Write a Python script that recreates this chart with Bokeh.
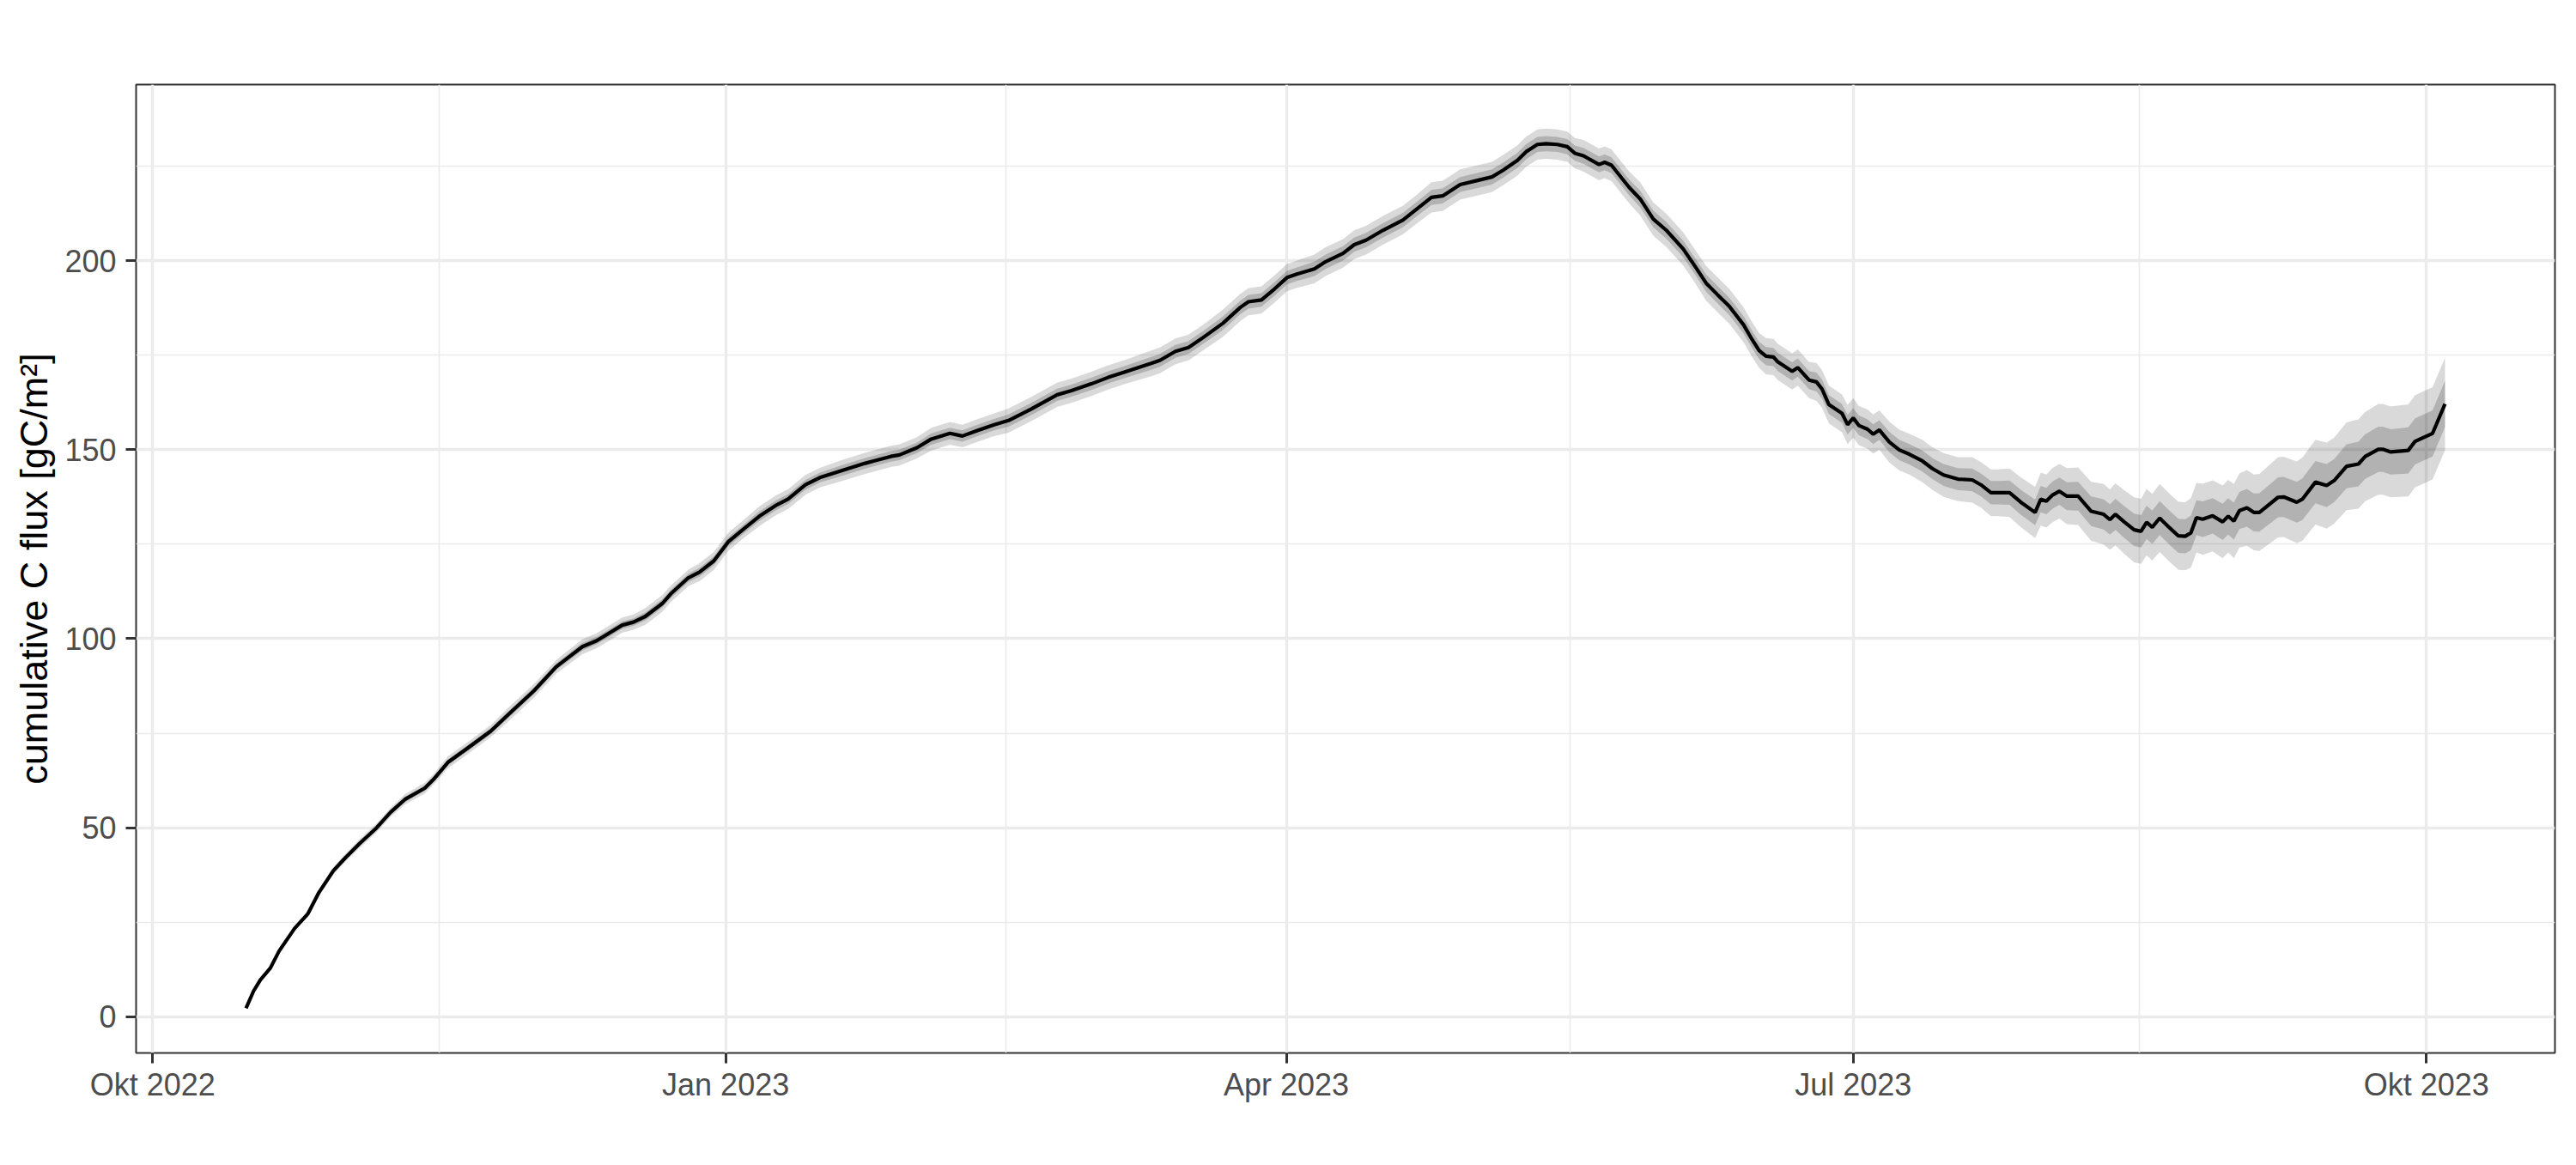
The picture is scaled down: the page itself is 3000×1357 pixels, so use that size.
import pandas as pd
from bokeh.plotting import figure
from bokeh.models import ColumnDataSource, FixedTicker, Range1d
from bokeh.embed import file_html
from bokeh.resources import INLINE

# ---------------- data ----------------
start_date = "2022-10-01"

# days after start_date
day_offset = [
    15.0, 16.2, 17.3, 18.9, 20.3, 22.8, 24.9, 26.7, 29.0, 30.9, 33.2, 35.9, 38.2, 40.5, 43.7, 45.1, 47.4, 50.6, 54.3,
    57.0, 61.2, 64.8, 69.0, 71.3, 75.4, 77.2, 79.1, 81.8,
    83.2, 86.0, 87.8, 90.1, 92.4, 95.1, 97.4, 100.2, 102.0, 104.8, 107.1, 110.7, 114.4, 118.5, 119.9, 122.7, 125.0,
    128.0, 130.0, 132.3, 135.1, 137.4, 141.0, 145.2, 147.5, 150.7,
    153.4, 156.2, 160.3, 161.7, 164.2, 166.3, 168.6, 171.8, 174.6, 175.9, 178.0, 180.1, 182.1, 183.7, 186.5, 188.3,
    191.1, 192.9, 194.8, 197.5, 200.7, 203.0, 205.3, 207.1, 209.9, 212.7, 215.0, 216.8, 219.1, 220.5, 222.3, 223.7,
    225.5, 227.1, 228.3, 229.7, 232.2, 233.1, 234.2, 237.0, 238.8, 240.9, 243.0, 245.7, 247.6, 249.4, 251.2, 253.1,
    255.4, 256.7, 257.9, 259.0, 260.2, 260.9, 263.2, 264.1, 265.9, 267.1, 268.0, 269.1, 271.2, 272.1, 273.0, 273.9,
    275.3, 276.2, 277.2, 278.8, 280.4, 282.0, 284.1, 285.7, 287.5, 289.8, 292.1, 293.5, 295.1, 296.2, 298.1, 299.9,
    302.2, 303.1, 304.0, 305.0, 306.1, 307.3, 309.1, 311.2, 313.2, 314.2, 315.1, 316.5, 318.1, 319.2, 320.1, 321.0,
    322.2, 323.8,
    325.2, 326.3, 327.2, 328.1, 329.1, 330.7, 332.3, 333.2, 334.1, 335.0, 336.2, 337.3, 338.2, 341.2, 342.1, 344.2,
    345.1, 347.2, 349.0, 350.2, 352.2, 354.1, 355.2, 357.3, 358.0, 359.3, 362.1, 363.2, 366.0, 368.0,
]

cum_flux = [
    2.3, 6.8, 9.8, 12.9, 17.4, 23.4, 27.2, 32.9, 38.6, 42.0, 45.8, 49.9, 54.1, 57.5, 60.5, 62.8, 67.3, 71.1, 75.6, 79.8,
    86.2, 92.6, 97.9, 99.5, 103.6, 104.4, 105.9, 109.3,
    111.9, 116.1, 117.6, 120.6, 125.6, 129.3, 132.4, 135.4, 136.9, 140.7, 142.6, 144.5, 146.4, 148.2, 148.6, 150.5, 152.8,
    154.3, 153.6, 155.0, 156.6, 157.7, 160.7, 164.5, 165.6, 167.4,
    169.1, 170.6, 172.8, 173.6, 176.0, 177.0, 179.6, 183.4, 187.6, 189.1, 189.6, 192.5, 195.5, 196.4, 197.8, 199.7, 201.9,
    204.2, 205.4, 208.0, 210.7, 213.7, 216.7, 217.1, 220.1, 221.2, 222.1, 223.9, 226.5, 228.8, 230.7, 230.9,
    230.7, 230.1, 228.4, 227.7, 225.4, 226.0, 225.2, 219.4, 216.3, 211.0, 208.0, 203.1, 198.5, 194.0, 191.0, 187.9, 183.0,
    179.3, 176.2, 174.7, 174.5, 173.2, 170.7, 171.7, 168.4, 167.9, 166.0, 161.9, 159.6, 156.6, 158.4, 156.4,
    155.4, 154.1, 155.2, 152.0, 149.9, 148.8, 147.0, 145.0, 143.3, 142.2, 142.0, 140.7, 138.6, 138.6, 138.6, 136.1, 133.4,
    136.9, 136.4, 138.0, 139.0, 137.7, 137.7, 133.7, 132.9, 131.5, 132.9, 130.9, 128.8, 128.4, 130.8, 129.5, 131.9, 129.3,
    127.2, 127.1, 128.0, 132.0, 131.6, 132.5, 130.9, 132.4, 131.1, 133.9, 134.6, 133.4, 133.4, 137.4, 137.5, 136.1, 136.9,
    141.4, 140.5, 141.8, 145.6, 146.2, 148.2, 150.1, 150.1, 149.4, 149.8, 152.2, 154.3, 162.1,
]

# half-width of the inner (dark) band; the outer (light) band is twice as wide
band_sd = [
    0.1, 0.1, 0.2, 0.2, 0.3, 0.3, 0.4, 0.4, 0.5, 0.5, 0.6, 0.6, 0.6, 0.7, 0.7, 0.7, 0.8, 0.8, 0.8, 0.9, 0.9, 0.9, 1.0, 1.0,
    1.0, 1.0, 1.1, 1.1,
    1.1, 1.1, 1.2, 1.2, 1.2, 1.2, 1.3, 1.3, 1.3, 1.3, 1.3, 1.4, 1.4, 1.4, 1.4, 1.4, 1.5, 1.5, 1.5, 1.5, 1.5, 1.6, 1.6, 1.6,
    1.6, 1.6,
    1.6, 1.6, 1.7, 1.7, 1.7, 1.7, 1.7, 1.8, 1.8, 1.8, 1.8, 1.8, 1.8, 1.8, 1.9, 1.9, 1.9, 1.9, 1.9, 1.9, 1.9, 1.9, 2.0, 2.0,
    2.0, 2.0, 2.0, 2.0, 2.0, 2.0, 2.0, 2.0,
    2.0, 2.0, 2.0, 2.1, 2.1, 2.1, 2.1, 2.1, 2.2, 2.2, 2.2, 2.2, 2.2, 2.3, 2.3, 2.3, 2.3, 2.3, 2.3, 2.4, 2.4, 2.4, 2.4, 2.4,
    2.4, 2.5, 2.5, 2.5, 2.5, 2.6, 2.6, 2.6,
    2.6, 2.6, 2.6, 2.7, 2.7, 2.7, 2.8, 2.8, 2.9, 2.9, 3.0, 3.0, 3.1, 3.1, 3.2, 3.3, 3.4, 3.5, 3.5, 3.6, 3.6, 3.7, 3.8, 3.9,
    4.0, 4.0, 4.1, 4.2, 4.3, 4.3, 4.4, 4.4, 4.5, 4.5,
    4.5, 4.5, 4.6, 4.6, 4.7, 4.7, 4.8, 4.8, 4.9, 4.9, 5.0, 5.0, 5.1, 5.3, 5.3, 5.4, 5.5, 5.6, 5.7, 5.7, 5.8, 5.9, 5.9, 6.0,
    6.0, 6.0, 6.1, 6.1, 6.1, 6.1,
]

x_tick_dates = ["2022-10-01", "2023-01-01", "2023-04-01", "2023-07-01", "2023-10-01"]
x_tick_labels = ["Okt 2022", "Jan 2023", "Apr 2023", "Jul 2023", "Okt 2023"]
y_ticks = [0, 50, 100, 150, 200]
y_minor_ticks = [25, 75, 125, 175, 225]
y_label = "cumulative C flux [gC/m²]"

# ---------------- build ----------------
assert len(day_offset) == len(cum_flux) == len(band_sd)

dates = pd.Timestamp(start_date) + pd.to_timedelta(day_offset, unit="D")
lo1 = [m - s for m, s in zip(cum_flux, band_sd)]
hi1 = [m + s for m, s in zip(cum_flux, band_sd)]
lo2 = [m - 2 * s for m, s in zip(cum_flux, band_sd)]
hi2 = [m + 2 * s for m, s in zip(cum_flux, band_sd)]

src = ColumnDataSource(dict(date=dates, y=cum_flux, lo1=lo1, hi1=hi1, lo2=lo2, hi2=hi2))


def ms(ts):
    return float(pd.Timestamp(ts).value // 10**6)


x_min, x_max = ms(dates.min()), ms(dates.max())
x_pad = 0.05 * (x_max - x_min)
y_min, y_max = min(lo2), max(hi2)
y_pad = 0.05 * (y_max - y_min)

FONT = "Liberation Sans"

p = figure(
    width=2984, height=1341,
    x_axis_type="datetime",
    output_backend="svg", toolbar_location=None,
    x_range=Range1d(x_min - x_pad, x_max + x_pad),
    y_range=Range1d(y_min - y_pad, y_max + y_pad),
    min_border_left=158, min_border_right=9, min_border_top=98, min_border_bottom=115,
)
p.background_fill_color = "white"
p.border_fill_color = "white"
p.outline_line_color = "#333333"
p.outline_line_width = 2

p.varea(x="date", y1="lo2", y2="hi2", source=src, fill_color="black", fill_alpha=0.15)
p.varea(x="date", y1="lo1", y2="hi1", source=src, fill_color="black", fill_alpha=0.18)
p.line(x="date", y="y", source=src, line_color="black", line_width=4.2)

tick_ms = [ms(d) for d in x_tick_dates]
minor_ms = [(a + b) / 2 for a, b in zip(tick_ms[:-1], tick_ms[1:])]
p.xaxis.ticker = FixedTicker(ticks=tick_ms, minor_ticks=minor_ms)
p.xaxis.major_label_overrides = {t: lab for t, lab in zip(tick_ms, x_tick_labels)}
p.yaxis.ticker = FixedTicker(ticks=y_ticks, minor_ticks=y_minor_ticks)
p.yaxis.axis_label = y_label

for ax in (p.xaxis, p.yaxis):
    ax.axis_line_color = None
    ax.major_tick_line_color = "#333333"
    ax.major_tick_line_width = 3
    ax.major_tick_out = 12
    ax.major_tick_in = 0
    ax.minor_tick_line_color = None
    ax.major_label_text_color = "#4d4d4d"
    ax.major_label_text_font = FONT
    ax.major_label_text_font_size = "36px"
    ax.axis_label_text_font = FONT
    ax.axis_label_text_font_size = "45px"
    ax.axis_label_text_font_style = "normal"
    ax.axis_label_text_color = "black"

p.xaxis.major_label_standoff = 4
p.yaxis.major_label_standoff = 11
p.yaxis.axis_label_standoff = 7

for g in (p.xgrid, p.ygrid):
    g.grid_line_color = "#ebebeb"
    g.grid_line_width = 3.3
    g.minor_grid_line_color = "#ebebeb"
    g.minor_grid_line_width = 1.7

open("out.html", "w").write(file_html(p, INLINE))
